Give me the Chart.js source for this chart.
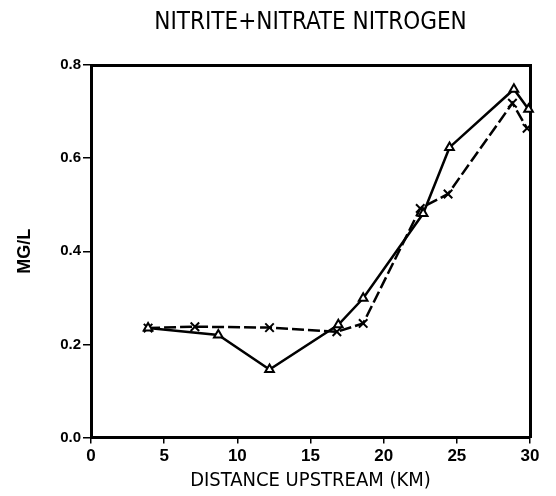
<!DOCTYPE html>
<html>
<head>
<meta charset="utf-8">
<script src="https://cdn.jsdelivr.net/npm/chart.js@4"></script>
<style>
  html, body { margin: 0; padding: 0; background: #fff; }
  #wrap { width: 556px; height: 496px; }
</style>
</head>
<body>
<div id="wrap"><canvas id="chart" width="556" height="496"></canvas></div>
<script>
// Distance upstream (km) and concentration (mg/L)
var triX = [3.9, 8.7, 12.2, 16.9, 18.6, 22.7, 24.5, 28.9, 29.9];
var triY = [0.235, 0.22, 0.146, 0.242, 0.299, 0.481, 0.623, 0.748, 0.705];

var crossX = [3.9, 7.1, 12.2, 16.8, 18.6, 22.5, 24.4, 28.8, 29.8];
var crossY = [0.235, 0.238, 0.236, 0.227, 0.245, 0.492, 0.523, 0.718, 0.664];

var xTicks = [0, 5, 10, 15, 20, 25, 30];
var yTicks = [0.0, 0.2, 0.4, 0.6, 0.8];

var chartTitle = 'NITRITE+NITRATE NITROGEN';
var xTitle = 'DISTANCE UPSTREAM (KM)';
var yTitle = 'MG/L';

var narrow = "'Liberation Sans Narrow', 'DejaVu Sans Condensed', 'Liberation Sans', sans-serif";

function toPoints(xs, ys) {
    return xs.map(function(x, i) { return {x: x, y: ys[i]}; });
}

var ctx = document.getElementById('chart').getContext('2d');
var chart = new Chart(ctx, {
    type: 'line',
    data: {
        datasets: [{
            label: 'triangles',
            data: toPoints(triX, triY),
            borderColor: '#000',
            borderWidth: 2.5,
            pointStyle: 'triangle',
            pointRadius: 5,
            pointBorderWidth: 2,
            pointBorderColor: '#000',
            pointBackgroundColor: '#fff',
            tension: 0,
            clip: false
        }, {
            label: 'crosses',
            data: toPoints(crossX, crossY),
            borderColor: '#000',
            borderWidth: 2.5,
            borderDash: [12, 4],
            pointStyle: 'crossRot',
            pointRadius: 6,
            pointBorderWidth: 2,
            pointBorderColor: '#000',
            tension: 0,
            clip: false
        }]
    },
    options: {
        responsive: false,
        animation: false,
        layout: { padding: 0 },
        plugins: {
            legend: { display: false },
            tooltip: { enabled: false },
            title: {
                display: true,
                text: chartTitle,
                fullSize: false,
                color: '#000',
                font: { family: narrow, size: 24, weight: 'normal', lineHeight: 1.2 },
                padding: { top: 8, bottom: 28.2 }
            }
        },
        scales: {
            x: {
                type: 'linear',
                position: 'bottom',
                min: 0,
                max: 30,
                afterBuildTicks: function(s) { s.ticks = xTicks.map(function(v) { return {value: v}; }); },
                afterFit: function(s) { s.height = 58.5; },
                ticks: {
                    color: '#000',
                    padding: 3,
                    maxRotation: 0,
                    font: { family: "'Liberation Sans', sans-serif", size: 17, weight: 'bold' }
                },
                grid: { drawOnChartArea: false, drawTicks: true, tickLength: 6, color: '#000', lineWidth: 1.5 },
                border: { display: true, color: '#000', width: 3 },
                title: {
                    display: true,
                    text: xTitle,
                    color: '#000',
                    font: { family: narrow, size: 20, weight: 'normal', lineHeight: 1.2 },
                    padding: { top: 0, bottom: 3 }
                }
            },
            x2: {
                type: 'linear',
                position: 'top',
                min: 0,
                max: 30,
                afterFit: function(s) { s.height = 0; },
                ticks: { display: false },
                grid: { drawOnChartArea: false, drawTicks: false },
                border: { display: true, color: '#000', width: 3 }
            },
            y: {
                type: 'linear',
                position: 'left',
                min: 0,
                max: 0.8,
                afterBuildTicks: function(s) { s.ticks = yTicks.map(function(v) { return {value: v}; }); },
                afterFit: function(s) { s.width = 91; },
                ticks: {
                    color: '#000',
                    padding: 2,
                    callback: function(v) { return Number(v).toFixed(1); },
                    font: { family: "'Liberation Sans', sans-serif", size: 15, weight: 'bold' }
                },
                grid: { drawOnChartArea: false, drawTicks: true, tickLength: 8, color: '#000', lineWidth: 1.5 },
                border: { display: true, color: '#000', width: 3 },
                title: {
                    display: true,
                    text: yTitle,
                    color: '#000',
                    font: { family: "'Liberation Sans', sans-serif", size: 18, weight: 'bold', lineHeight: 1.2 },
                    padding: { top: 14, bottom: 0 }
                }
            },
            y2: {
                type: 'linear',
                position: 'right',
                min: 0,
                max: 0.8,
                afterFit: function(s) { s.width = 26; },
                ticks: { display: false },
                grid: { drawOnChartArea: false, drawTicks: false },
                border: { display: true, color: '#000', width: 3 }
            }
        }
    }
});
</script>
</body>
</html>
